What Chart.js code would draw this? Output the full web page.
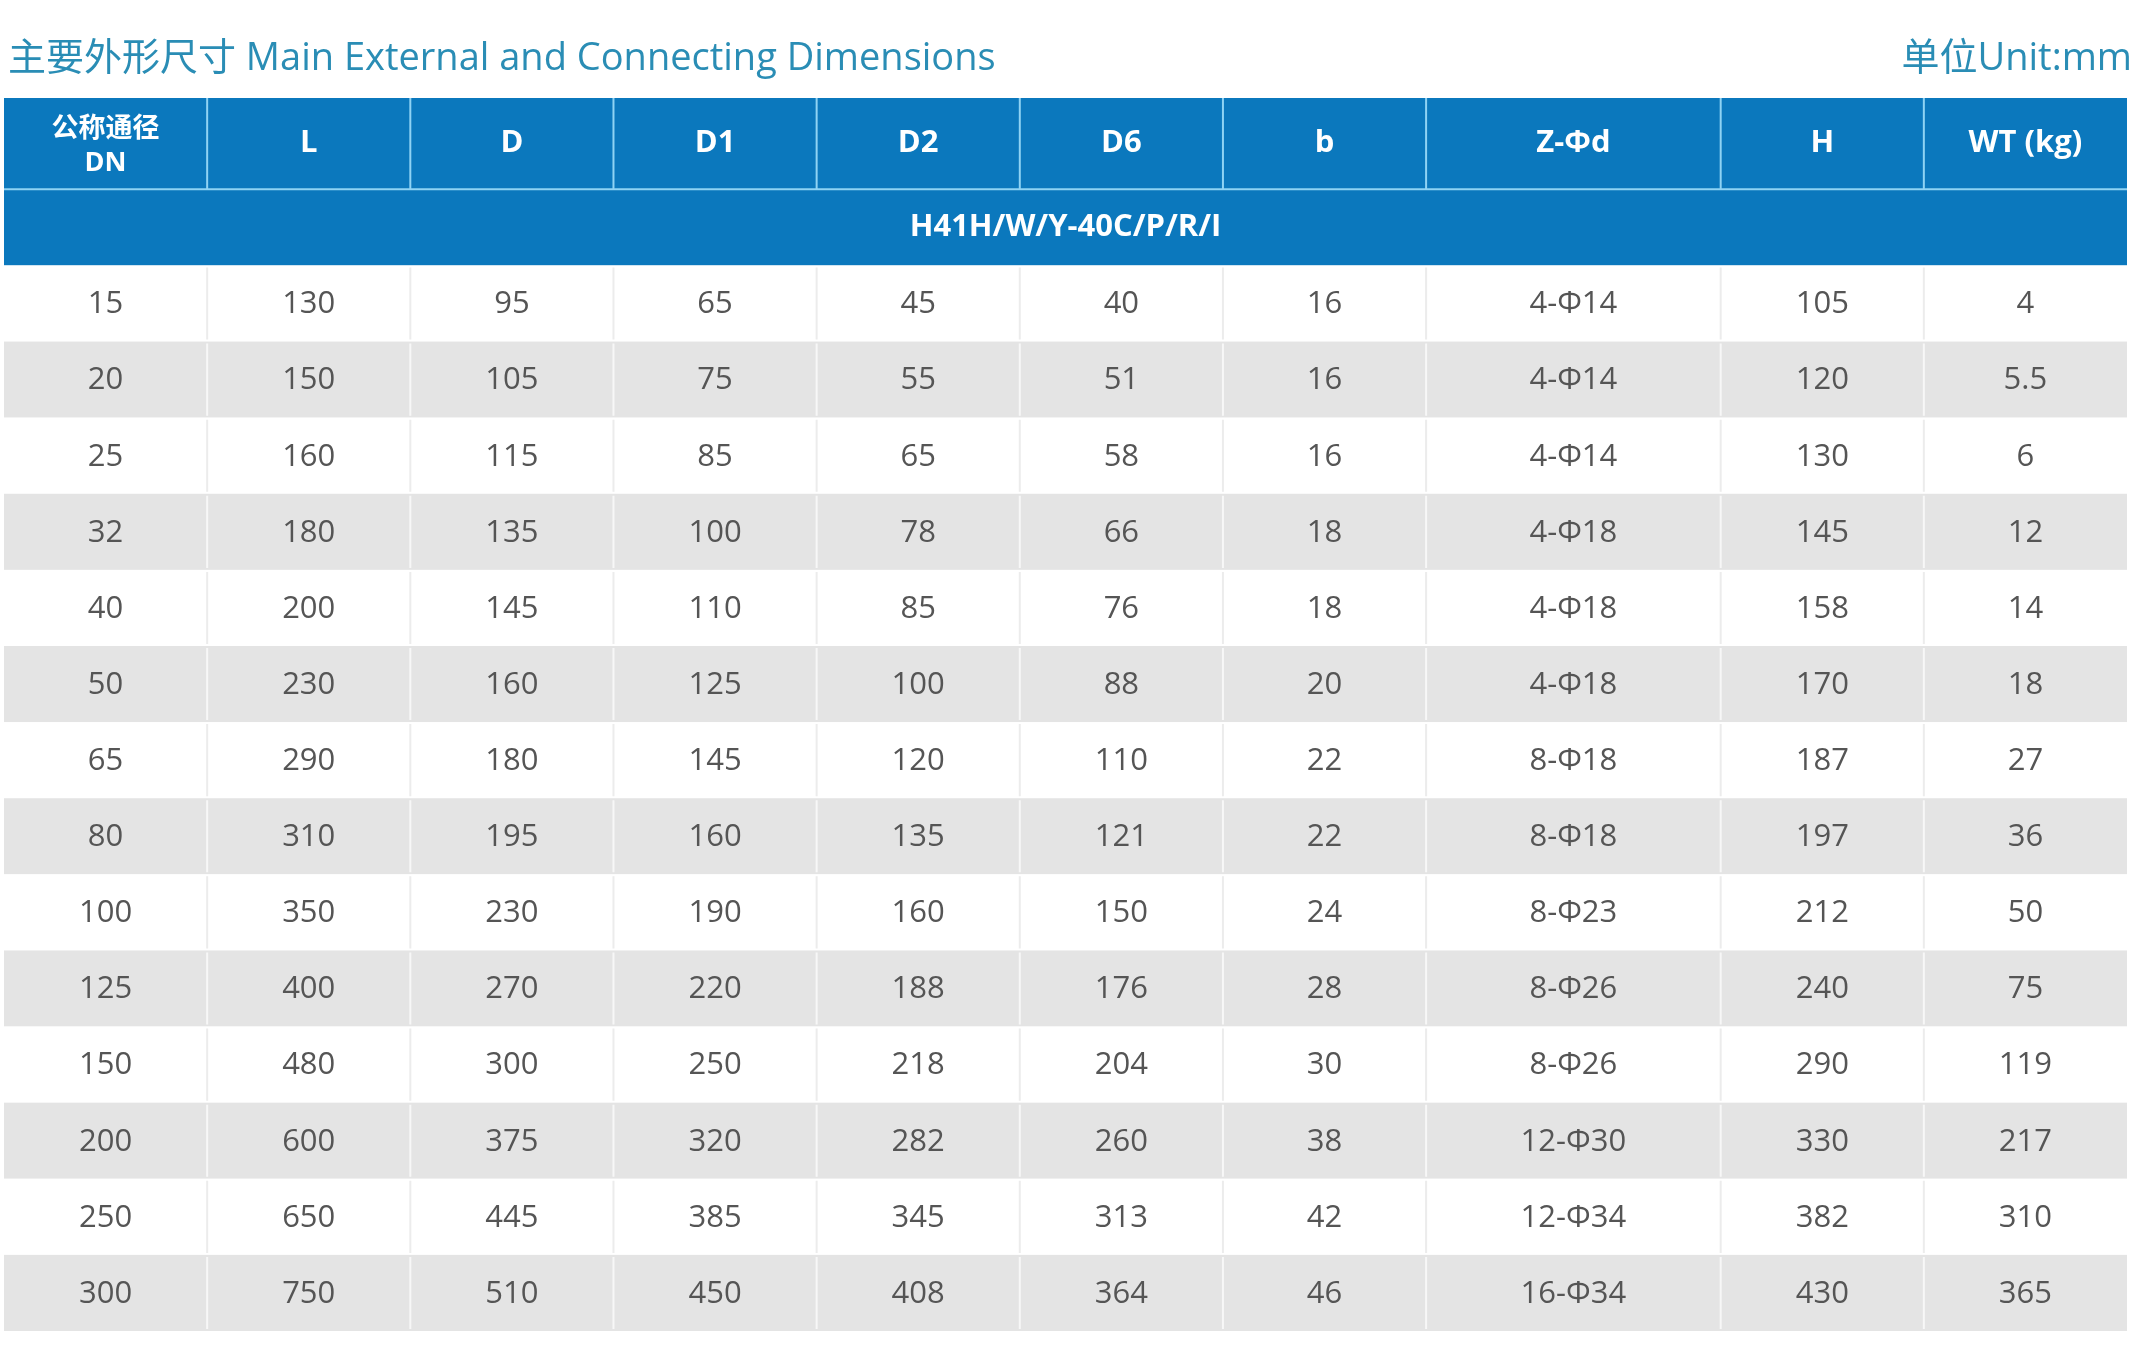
<!DOCTYPE html>
<html lang="en">
<head>
    <meta charset="UTF-8">
    <title>Main External and Connecting Dimensions</title>
    <script src="https://cdn.jsdelivr.net/npm/chart.js"></script>
    <style>
        body { margin: 0; background: #fff; }
        #wrap { width: 2145px; height: 1353px; }
    </style>
</head>
<body>
<div id="wrap"><canvas id="tbl"></canvas></div>
<script>
    const titleText = '主要外形尺寸 Main External and Connecting Dimensions';
    const unitText = '单位Unit:mm';
    const columns = ['公称通径\nDN', 'L', 'D', 'D1', 'D2', 'D6', 'b', 'Z-Φd', 'H', 'WT (kg)'];
    const colWidths = [1, 1, 1, 1, 1, 1, 1, 1.45, 1, 1];
    const model = 'H41H/W/Y-40C/P/R/I';

    const dn = [15, 20, 25, 32, 40, 50, 65, 80, 100, 125, 150, 200, 250, 300];
    const L = [130, 150, 160, 180, 200, 230, 290, 310, 350, 400, 480, 600, 650, 750];
    const D = [95, 105, 115, 135, 145, 160, 180, 195, 230, 270, 300, 375, 445, 510];
    const D1 = [65, 75, 85, 100, 110, 125, 145, 160, 190, 220, 250, 320, 385, 450];
    const D2 = [45, 55, 65, 78, 85, 100, 120, 135, 160, 188, 218, 282, 345, 408];
    const D6 = [40, 51, 58, 66, 76, 88, 110, 121, 150, 176, 204, 260, 313, 364];
    const b = [16, 16, 16, 18, 18, 20, 22, 22, 24, 28, 30, 38, 42, 46];
    const bolts = ['4-Φ14', '4-Φ14', '4-Φ14', '4-Φ18', '4-Φ18', '4-Φ18', '8-Φ18', '8-Φ18', '8-Φ23', '8-Φ26', '8-Φ26', '12-Φ30', '12-Φ34', '16-Φ34'];
    const H = [105, 120, 130, 145, 158, 170, 187, 197, 212, 240, 290, 330, 382, 430];
    const WT = ['4', '5.5', '6', '12', '14', '18', '27', '36', '50', '75', '119', '217', '310', '365'];

    const dataCols = [dn, L, D, D1, D2, D6, b, bolts, H, WT];
    const headH = 1.2, subH = 1.0, rowH = 1.0;

    // column edges in table units
    const colEdges = [0];
    colWidths.forEach(w => colEdges.push(colEdges[colEdges.length - 1] + w));
    const totalW = colEdges[colEdges.length - 1];
    const totalH = headH + subH + dn.length * rowH;

    const font = '"Open Sans", "Noto Sans CJK SC", sans-serif';

    const tablePlugin = {
        id: 'tablePlugin',
        beforeDatasetsDraw(chart) {
            const ctx = chart.ctx;
            const xs = chart.scales.x, ys = chart.scales.y;
            const X = v => xs.getPixelForValue(v);
            const Y = v => ys.getPixelForValue(v);
            ctx.save();

            // title
            ctx.textBaseline = 'middle';
            ctx.fillStyle = '#2a8db5';
            ctx.font = '38px ' + font;
            ctx.textAlign = 'left';
            ctx.fillText(titleText, 8, 59);
            ctx.textAlign = 'right';
            ctx.fillText(unitText, 2132, 59);

            // header
            ctx.fillStyle = '#0b78bd';
            ctx.fillRect(X(0), Y(0), X(totalW) - X(0), Y(headH + subH) - Y(0));
            ctx.strokeStyle = '#8fd3f4';
            ctx.lineWidth = 2;
            ctx.beginPath();
            ctx.moveTo(X(0), Y(headH)); ctx.lineTo(X(totalW), Y(headH));
            for (let i = 1; i < columns.length; i++) {
                ctx.moveTo(X(colEdges[i]), Y(0)); ctx.lineTo(X(colEdges[i]), Y(headH));
            }
            ctx.stroke();

            ctx.fillStyle = '#ffffff';
            ctx.textAlign = 'center';
            columns.forEach((c, i) => {
                const cx = (X(colEdges[i]) + X(colEdges[i + 1])) / 2;
                const cy = Y(headH / 2);
                const lines = c.split('\n');
                if (lines.length > 1) {
                    ctx.font = 'bold 27px ' + font;
                    ctx.fillText(lines[0], cx, cy - 14);
                    ctx.fillText(lines[1], cx, cy + 20);
                } else {
                    ctx.font = 'bold 31px ' + font;
                    ctx.fillText(c, cx, cy);
                }
            });
            ctx.font = 'bold 31px ' + font;
            ctx.fillText(model, (X(0) + X(totalW)) / 2, Y(headH + subH / 2));

            // body rows
            dn.forEach((_, r) => {
                const top = headH + subH + r * rowH;
                ctx.fillStyle = r % 2 ? '#e4e4e4' : '#ffffff';
                ctx.fillRect(X(0), Y(top), X(totalW) - X(0), Y(top + rowH) - Y(top));
                ctx.strokeStyle = r % 2 ? '#f7f7f7' : '#ececec';
                ctx.lineWidth = 2;
                ctx.beginPath();
                for (let i = 1; i < columns.length; i++) {
                    ctx.moveTo(X(colEdges[i]), Y(top) + 2); ctx.lineTo(X(colEdges[i]), Y(top + rowH) - 2);
                }
                ctx.stroke();
                ctx.fillStyle = '#555555';
                ctx.font = '31px ' + font;
                dataCols.forEach((col, i) => {
                    ctx.fillText(String(col[r]), (X(colEdges[i]) + X(colEdges[i + 1])) / 2, Y(top + rowH / 2) + 1);
                });
            });
            ctx.restore();
        }
    };

    new Chart(document.getElementById('tbl'), {
        type: 'scatter',
        data: { datasets: [{ data: [] }] },
        options: {
            responsive: true,
            maintainAspectRatio: false,
            animation: false,
            layout: { padding: { left: 4, right: 18, top: 98, bottom: 22 } },
            plugins: { legend: { display: false }, tooltip: { enabled: false } },
            scales: {
                x: { type: 'linear', min: 0, max: totalW, display: false },
                y: { type: 'linear', min: 0, max: totalH, reverse: true, display: false }
            }
        },
        plugins: [tablePlugin]
    });
</script>
</body>
</html>
